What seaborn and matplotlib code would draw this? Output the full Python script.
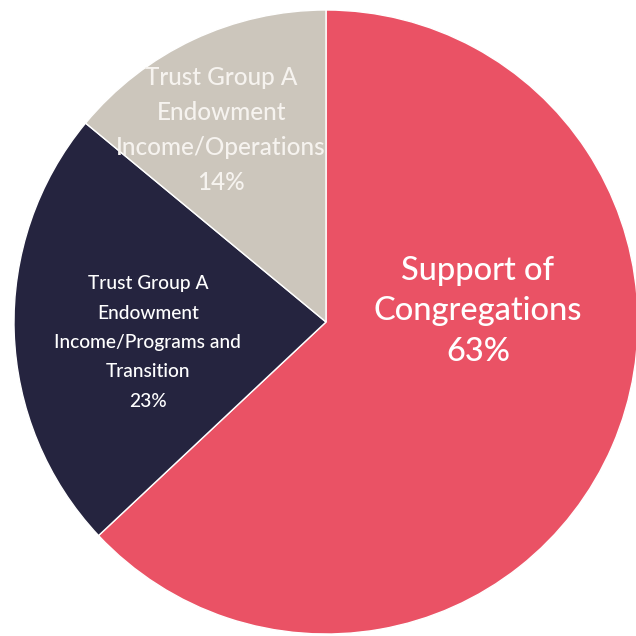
import matplotlib
matplotlib.use("Agg")
import matplotlib.pyplot as plt
import seaborn as sns

categories = ["Support of\nCongregations",
              "Trust Group A\nEndowment\nIncome/Programs and\nTransition",
              "Trust Group A\nEndowment\nIncome/Operations"]
values = [63, 23, 14]
colors = ["#EA5265", "#25243F", "#CCC6BC"]

sns.set_style("white")
plt.rcParams['font.family'] = ['Lato', 'DejaVu Sans']

fig = plt.figure(figsize=(6.36, 6.36), dpi=100)
ax = fig.add_axes([0, 0, 1, 1])
wedges, _ = ax.pie(values, colors=colors, startangle=90, counterclock=False,
                   radius=1, wedgeprops=dict(edgecolor="white", linewidth=1.0))

R = 312.0
ax.set_xlim(-326 / R, (636 - 326) / R)
ax.set_ylim(-(636 - 322) / R, 322 / R)
ax.set_aspect("equal")
ax.axis("off")

label_pos = [(0.487, 0.034), (-0.571, -0.066), (-0.336, 0.615)]
label_size = [23.5, 13.8, 17.5]
label_color = ["white", "white", "#F6F3EF"]
label_ls = [1.43, 1.88, 1.62]
for cat, v, pos, fs, c, ls in zip(categories, values, label_pos, label_size, label_color, label_ls):
    ax.text(pos[0], pos[1], f"{cat}\n{v}%", ha="center", va="center",
            fontsize=fs, color=c, linespacing=ls, fontweight="medium")

fig.savefig("out.png", dpi=100)
